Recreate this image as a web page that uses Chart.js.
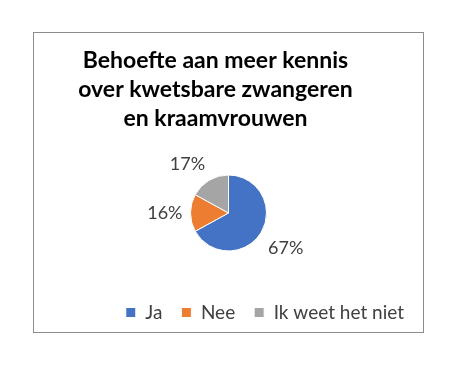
<!DOCTYPE html>
<html>
<head>
<meta charset="utf-8">
<script src="https://cdn.jsdelivr.net/npm/chart.js@4"></script>
<style>
    html, body { margin: 0; padding: 0; background: #fff; }
    body { width: 460px; height: 369px; position: relative; overflow: hidden; }
    #chartBox {
        position: absolute; left: 33px; top: 32px;
        width: 391px; height: 301px;
        box-sizing: border-box;
        border: 1px solid #8c8c8c;
    }
</style>
</head>
<body>
<div id="chartBox"><canvas id="pieChart"></canvas></div>
<script>
// Chart data
const categories = ['Ja', 'Nee', 'Ik weet het niet'];
const shares = [67, 16, 17];
const sliceColors = ['#4472C4', '#ED7D31', '#A5A5A5'];
const titleLines = ['Behoefte aan meer kennis', 'over kwetsbare zwangeren', 'en kraamvrouwen'];

const FONT = 'Lato, "Open Sans", sans-serif';

// Percent labels just outside each slice
const outsideLabels = {
    id: 'outsideLabels',
    afterDatasetsDraw(chart) {
        const ctx = chart.ctx;
        const meta = chart.getDatasetMeta(0);
        const total = shares.reduce((a, b) => a + b, 0);
        ctx.save();
        ctx.font = '18px ' + FONT;
        ctx.fillStyle = '#404040';
        meta.data.forEach((arc, i) => {
            const p = arc.getProps(['x', 'y', 'startAngle', 'endAngle', 'outerRadius'], true);
            const mid = (p.startAngle + p.endAngle) / 2;
            const cos = Math.cos(mid), sin = Math.sin(mid);
            const r = p.outerRadius + 8;
            const cx = p.x + cos * r;
            const cy = p.y + sin * r;
            ctx.textAlign = cos > 0.3 ? 'left' : (cos < -0.3 ? 'right' : 'center');
            ctx.textBaseline = sin > 0.3 ? 'top' : (sin < -0.3 ? 'bottom' : 'middle');
            const pct = Math.round(shares[i] / total * 100) + '%';
            ctx.fillText(pct, cx, cy + (sin > 0.3 ? 3 : 0));
        });
        ctx.restore();
    }
};

// title sits a bit left of the pie in the original
const titleShift = {
    id: 'titleShift',
    afterLayout(chart) {
        chart.titleBlock.left -= 13;
        chart.titleBlock.right -= 13;
    }
};

const ctx = document.getElementById('pieChart').getContext('2d');
new Chart(ctx, {
    type: 'pie',
    data: {
        labels: categories,
        datasets: [{
            data: shares,
            backgroundColor: sliceColors,
            borderColor: '#ffffff',
            borderWidth: 1
        }]
    },
    options: {
        responsive: true,
        maintainAspectRatio: false,
        animation: false,
        radius: 38,
        plugins: {
            title: {
                display: true,
                text: titleLines,
                color: '#000000',
                font: { family: FONT, size: 23, weight: 'bold', lineHeight: 1.26 },
                padding: { top: 13, bottom: 9 }
            },
            legend: {
                position: 'bottom',
                align: 'end',
                labels: {
                    boxWidth: 10,
                    boxHeight: 10,
                    padding: 19,
                    color: '#404040',
                    font: { family: FONT, size: 19 }
                }
            },
            tooltip: { enabled: false }
        }
    },
    plugins: [outsideLabels, titleShift]
});
</script>
</body>
</html>
